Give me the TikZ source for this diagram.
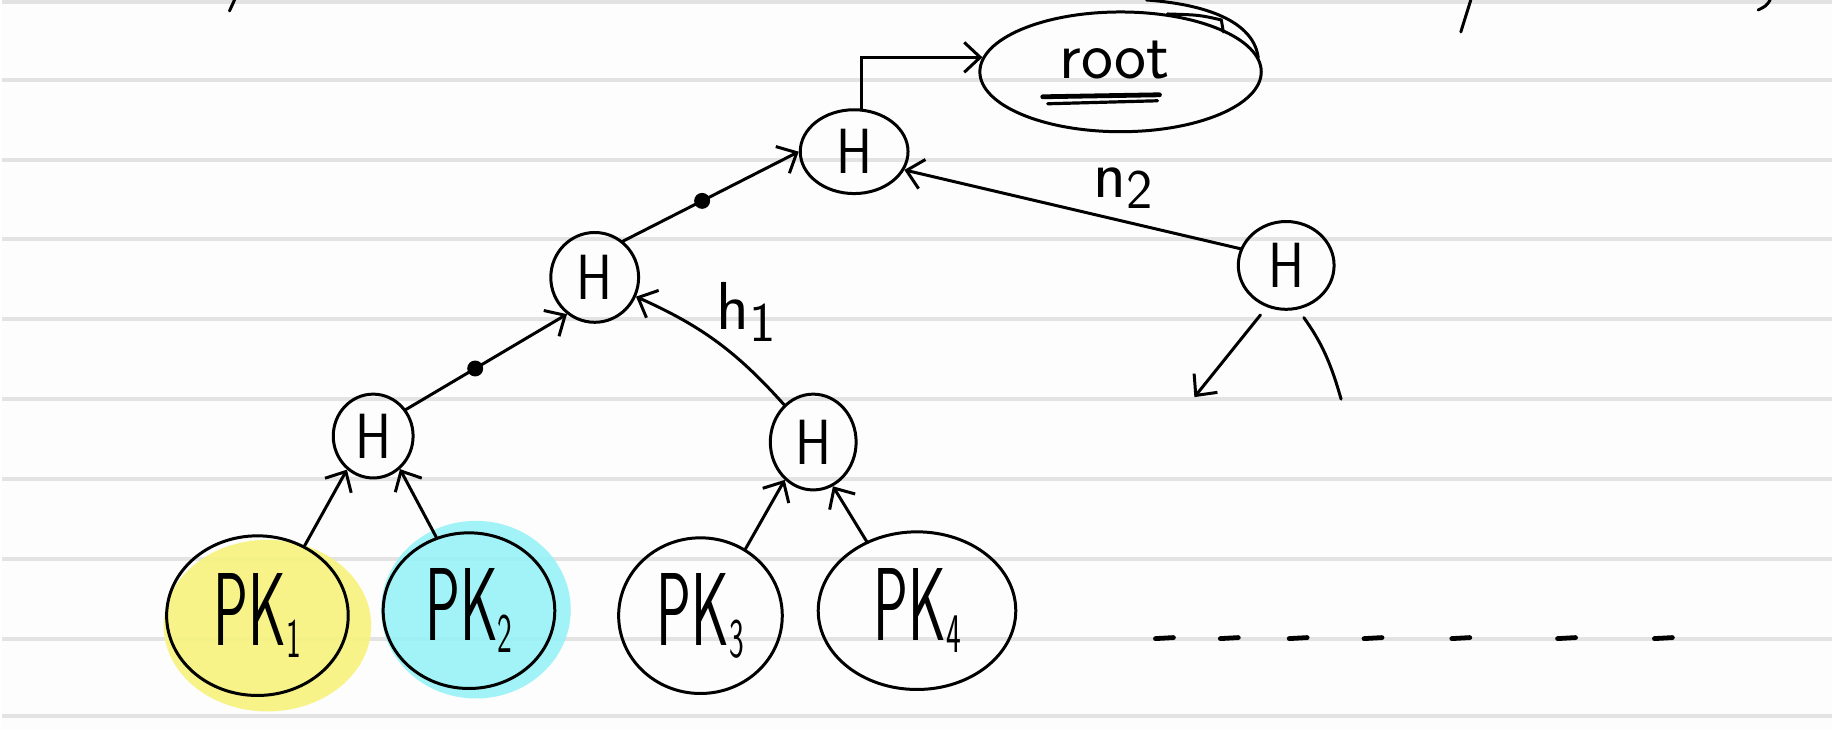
\documentclass[tikz,border=0pt]{standalone}
\usepackage{fontspec}
\usepackage{graphicx}
\usetikzlibrary{arrows.meta,shapes.geometric}
\definecolor{paperwhite}{RGB}{252,253,252}
\definecolor{ruleline}{RGB}{226,227,226}
\definecolor{hlyellow}{RGB}{247,243,124}
\definecolor{hlcyan}{RGB}{152,242,247}
\newcommand{\hsub}[1]{\raisebox{-6pt}{\fontsize{28}{28}\selectfont #1}}
\newcommand{\hashH}{\scalebox{.85}[1]{H}}
\newcommand{\pkey}[1]{\scalebox{.56}[1]{PK\hsub{#1}}}

\begin{document}
\begin{tikzpicture}[x=.5pt,y=-.5pt,line width=1.5pt,
    >={Straight Barb[length=8pt,width=15pt]},
    hand/.style={font=\sffamily\fontsize{34}{34}\selectfont},
    hashbox/.style 2 args={ellipse,draw,inner sep=0pt,
      font=\sffamily\fontsize{32}{32}\selectfont,minimum width=#1,minimum height=#2},
    pkbox/.style 2 args={ellipse,draw,inner sep=0pt,
      font=\sffamily\fontsize{52}{52}\selectfont,minimum width=#1,minimum height=#2},
    conn/.style={->,line cap=round},
    dot/.style={circle,fill,inner sep=0pt,minimum size=8pt},
    ruling/.style={ruleline,line width=2pt}]
  % lined paper
  \fill[paperwhite] (0,0) rectangle (1834,732);
  \foreach \ly in {2,80,160,240,320,400,480,560,640,718}
    \draw[ruling] (0,\ly) -- (1834,\ly);
  \useasboundingbox (0,0) rectangle (1834,732);
  % leftovers of the line above
  \draw[line cap=round] (233,0) -- (228,11);
  \draw[line cap=round] (1472,0) -- (1462,32);
  \draw[line cap=round] (1772,0) .. controls (1768,6) .. (1760,10);
  % highlighter
  \fill[hlyellow,fill opacity=.9] (266,627) ellipse [x radius=104,y radius=86];
  \fill[hlcyan,fill opacity=.9] (475,611) ellipse [x radius=95,y radius=89];
  % tree
  \node[ellipse,draw,minimum width=141pt,minimum height=60pt] (root) at (1121,72) {};
  \node[hand] (rootword) at ([xshift=-3pt,yshift=6pt]root.center) {root};
  \draw[line width=2.4pt,line cap=round] (1043,97) -- (1160,95);
  \draw[line width=1.6pt,line cap=round] (1048,104) -- (1158,101);
  \draw[line cap=round] (1147,0) .. controls (1215,5) and (1255,25) .. (1259,58);
  \draw[line cap=round] (1168,14) .. controls (1200,15) .. (1222,20) -- (1224,32);
  \node[hashbox={54pt}{42pt}] (hroot) at (854,152) {\hashH};
  \node[hashbox={44pt}{45pt}] (hmid) at (594,278) {\hashH};
  \node[hashbox={48pt}{44pt}] (hright) at (1287,266) {\hashH};
  \node[hashbox={40pt}{42pt}] (hleafa) at (372,437) {\hashH};
  \node[hashbox={43pt}{48pt}] (hleafb) at (813,443) {\hashH};
  \node[pkbox={91pt}{80pt}] (pka) at (256,617) {\pkey{1}};
  \node[pkbox={86pt}{78pt}] (pkb) at (468,612) {\pkey{2}};
  \node[pkbox={82pt}{78pt}] (pkc) at (700,617) {\pkey{3}};
  \node[pkbox={99pt}{79pt}] (pkd) at (917,612) {\pkey{4}};
  % hashing up
  \draw[conn] (hroot.80) |- (root.174);
  \draw[conn] (hright.160) -- node[hand,pos=.35,above=2pt] (ntwo) {n\hsub{2}} (hroot.-20);
  \draw[conn] (hmid.52) -- node[dot,pos=.45] (dotup) {} (hroot.180);
  \draw[conn] (hleafa.39) -- node[dot,pos=.43] (dotlow) {} (hmid.-127);
  \draw[conn] (hleafb.128) to[bend right=12] node[hand,midway,above right=-4pt] (hone) {h\hsub{1}} (hmid.-25);
  \draw[conn] (pka.56) -- (hleafa.-128);
  \draw[conn] (pkb.114) -- (hleafa.-51);
  \draw[conn] (pkc.56) -- (hleafb.-127);
  \draw[conn] (pkd.126) -- (hleafb.-66);
  % rest of the tree
  \coordinate (subleft) at (1195,398);
  \coordinate (subright) at (1342,400);
  \draw[conn,shorten <=5pt] (hright.245) -- (subleft);
  \draw[line cap=round,shorten <=5pt] (hright.-75) to[bend left=10] (subright);
  \foreach \dx in {1156,1221,1290,1365,1453,1559,1656}
    \draw[line width=2.4pt,line cap=round] (\dx,640) -- ++(18,-1);
\end{tikzpicture}
\end{document}
